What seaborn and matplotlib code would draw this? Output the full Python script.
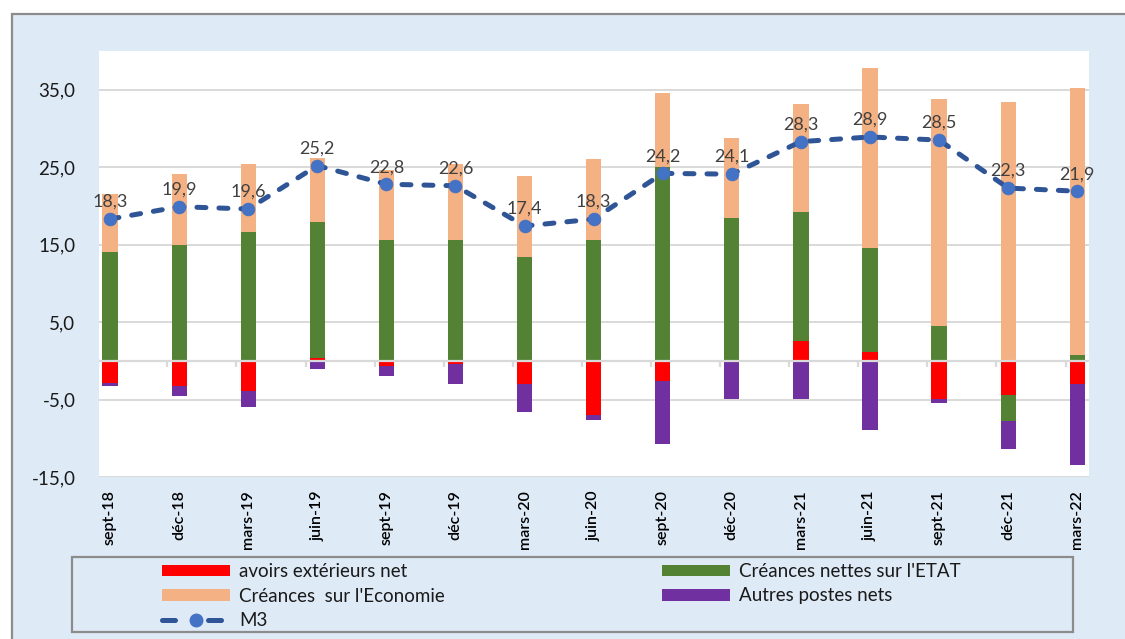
import matplotlib
matplotlib.use("Agg")
import matplotlib.pyplot as plt
import seaborn as sns
import numpy as np
import pandas as pd
from matplotlib.patches import Rectangle, Patch
from matplotlib.lines import Line2D

# ---------------- data ----------------
categories = ["sept-18", "déc-18", "mars-19", "juin-19", "sept-19", "déc-19", "mars-20",
              "juin-20", "sept-20", "déc-20", "mars-21", "juin-21", "sept-21", "déc-21", "mars-22"]
avoirs = [-2.9, -3.3, -3.9, 0.35, -0.7, -0.4, -3.05, -7.0, -2.6, 0.0, 2.5, 1.1, -4.9, -4.35, -3.0]
etat = [14.1, 14.9, 16.6, 17.6, 15.6, 15.6, 13.4, 15.6, 25.0, 18.45, 16.75, 13.5, 4.55, -3.4, 0.8]
economie = [7.4, 9.2, 8.8, 8.25, 9.05, 9.8, 10.5, 10.4, 9.6, 10.35, 13.95, 23.2, 29.25, 33.4, 34.4]
autres = [-0.4, -1.25, -2.0, -1.1, -1.2, -2.6, -3.6, -0.7, -8.1, -4.95, -4.95, -8.9, -0.55, -3.6, -10.5]
m3 = [18.3, 19.9, 19.6, 25.2, 22.8, 22.6, 17.4, 18.3, 24.2, 24.1, 28.3, 28.9, 28.5, 22.3, 21.9]
ytick_values = [-15, -5, 5, 15, 25, 35]

series_labels = ["avoirs extérieurs net", "Créances nettes sur l'ETAT",
                 "Créances  sur l'Economie", "Autres postes nets"]
series_colors = ["#FF0000", "#548235", "#F4B183", "#7030A0"]
line_color = "#2F5597"
marker_color = "#4472C4"
bg_color = "#DEEAF6"
frame_color = "#8C8C8C"
grid_color = "#D9D9D9"

sns.set_theme(style="white")
plt.rcParams["font.family"] = ["Lato", "DejaVu Sans"]

W, H = 1125, 639
fig = plt.figure(figsize=(W / 100, H / 100), dpi=100, facecolor="white")

# chart area background with frame
fig.patches.append(Rectangle((12 / W, -0.1), 1.2, (1 - 14 / H) + 0.1, transform=fig.transFigure,
                             facecolor=bg_color, edgecolor=frame_color, lw=1.6, zorder=-5))

ax = fig.add_axes([99 / W, 1 - 477 / H, (1089 - 99) / W, (477 - 51) / H])
ax.set_zorder(1)
ax.set_facecolor("white")

x = np.arange(len(categories))
pos_base = np.zeros(len(x))
neg_base = np.zeros(len(x))
for vals, color in zip([avoirs, etat, economie, autres], series_colors):
    v = np.array(vals, dtype=float)
    bottom = np.where(v >= 0, pos_base, neg_base)
    ax.bar(x, v, bottom=bottom, width=0.22, color=color, linewidth=0, zorder=2)
    pos_base += np.where(v >= 0, v, 0)
    neg_base += np.where(v < 0, v, 0)

df = pd.DataFrame({"x": x, "M3": m3})
sns.lineplot(data=df, x="x", y="M3", ax=ax, color=line_color, lw=3.6,
             linestyle=(0, (1.8, 2.6)), dash_capstyle="round",
             marker="o", markersize=9, markerfacecolor=marker_color,
             markeredgecolor=marker_color, zorder=4)

for i, v in enumerate(m3):
    ax.annotate(f"{v:.1f}".replace(".", ","), (x[i], v), xytext=(0, 6.5),
                textcoords="offset points", ha="center", va="bottom",
                fontsize=13, color="#404040", zorder=5)

# axes styling
ax.set_ylim(-15, 40)
ax.set_xlim(-0.16, 14.17)
ax.set_yticks(ytick_values)
ax.set_yticklabels([f"{t:.1f}".replace(".", ",") for t in ytick_values])
ax.tick_params(axis="y", length=0, pad=17, labelsize=13.5, labelcolor="#1a1a1a")
ax.set_xticks(x)
ax.set_xticklabels(categories, rotation=90, fontweight="semibold")
ax.tick_params(axis="x", length=0, pad=9.5, labelsize=11.5, labelcolor="black")
for s in ax.spines.values():
    s.set_visible(False)
ax.yaxis.grid(True, color=grid_color, lw=1.4)
ax.set_axisbelow(True)
ax.axhline(0, color=grid_color, lw=1.6, zorder=3)
ax.vlines(x - 0.17, -0.8, 0, color=grid_color, lw=1.6, zorder=3)
ax.set_xlabel("")
ax.set_ylabel("")

# legend frame
fig.patches.append(Rectangle((72 / W, 1 - 632 / H), (1073 - 72) / W, (632 - 557) / H,
                             transform=fig.transFigure, facecolor="none",
                             edgecolor=frame_color, lw=1.6, zorder=-4))

h_red = Patch(facecolor=series_colors[0], edgecolor="none", label=series_labels[0])
h_green = Patch(facecolor=series_colors[1], edgecolor="none", label=series_labels[1])
h_orange = Patch(facecolor=series_colors[2], edgecolor="none", label=series_labels[2])
h_purple = Patch(facecolor=series_colors[3], edgecolor="none", label=series_labels[3])
h_m3 = Line2D([], [], color=line_color, lw=3.6, linestyle=(0, (2.6, 6.6)),
              dash_capstyle="round", marker="o", markersize=9,
              markerfacecolor=marker_color, markeredgecolor=marker_color, label="M3")

leg_kw = dict(frameon=False, loc="upper left", borderpad=0, borderaxespad=0,
              handlelength=3.6, handleheight=0.55, handletextpad=0.5, labelspacing=0.4,
              prop={"size": 13.5}, bbox_transform=fig.transFigure)
leg1 = fig.legend(handles=[h_red, h_orange, h_m3], bbox_to_anchor=(162 / W, 1 - 563 / H), **leg_kw)
leg2 = fig.legend(handles=[h_green, h_purple], bbox_to_anchor=(662 / W, 1 - 563 / H), **leg_kw)
for leg in (leg1, leg2):
    for t in leg.get_texts():
        t.set_color("#1a1a1a")

fig.savefig("out.png", dpi=100, facecolor=fig.get_facecolor())
